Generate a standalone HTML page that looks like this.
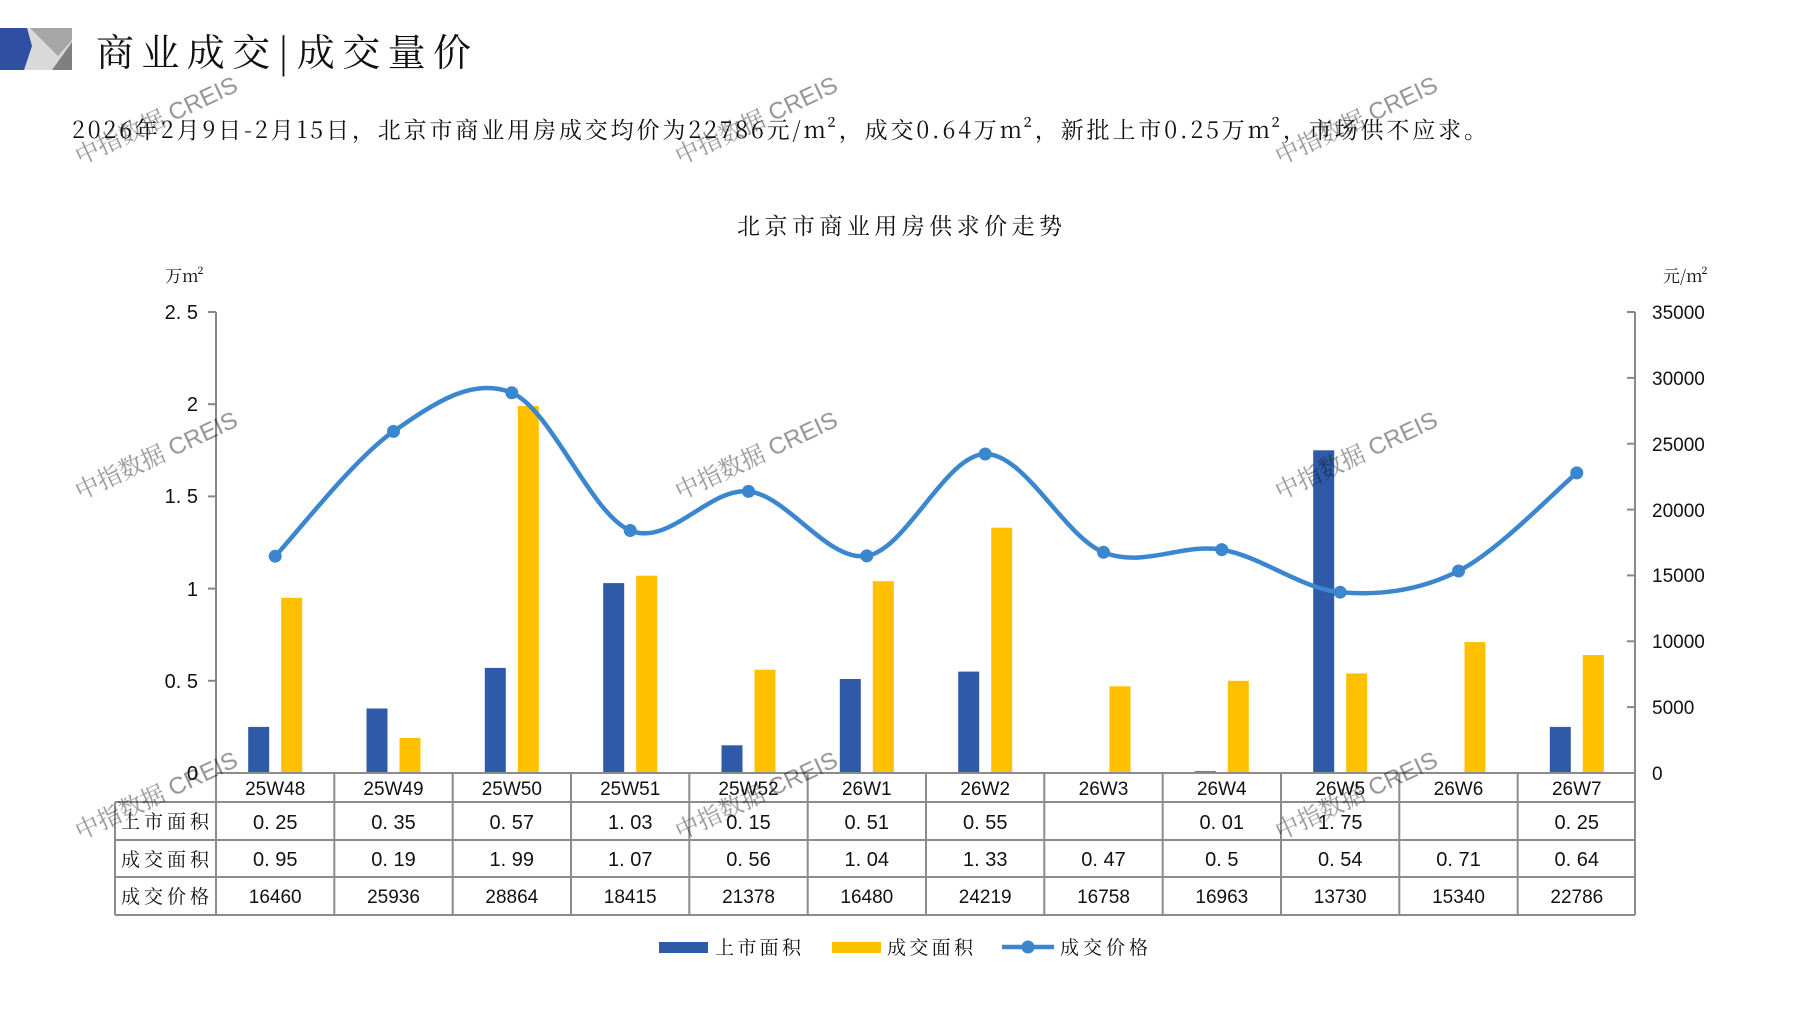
<!DOCTYPE html>
<html><head><meta charset="utf-8"><style>
html,body{margin:0;padding:0;background:#fff;}
svg{display:block;}
text{font-family:"Liberation Sans","Noto Serif CJK SC",serif;fill:#111;}
.cn{font-family:"Noto Serif CJK SC","Noto Sans CJK SC",serif;}
.wm{font-family:"Liberation Sans","Noto Sans CJK SC",sans-serif;fill:#c8c8c8;font-size:24px;opacity:.45;}
</style></head><body>
<svg width="1797" height="1010" viewBox="0 0 1797 1010" xmlns="http://www.w3.org/2000/svg">
<rect width="1797" height="1010" fill="#fff"/>
<!-- logo -->
<rect x="0" y="28" width="72" height="42" fill="#d9d9d9"/>
<polygon points="30,28 72,28 72,40 58,56" fill="#a6a6a6"/>
<polygon points="72,42 72,70 52,70" fill="#7f7f7f"/>
<polygon points="0,28 27,28 32,46 24,70 0,70" fill="#2f4fa3"/>
<!-- title -->
<text x="96" y="66" class="cn" font-size="38" textLength="375" lengthAdjust="spacing">商业成交|成交量价</text>
<text x="72" y="138" class="cn" font-size="23" textLength="1415" lengthAdjust="spacing">2026年2月9日-2月15日，北京市商业用房成交均价为22786元/m²，成交0.64万m²，新批上市0.25万m²，市场供不应求。</text>
<text x="737" y="234" class="cn" font-size="23" textLength="325" lengthAdjust="spacing">北京市商业用房供求价走势</text>
<!-- units -->
<text x="165" y="282" class="cn" font-size="17">万m²</text>
<text x="1663" y="282" class="cn" font-size="17">元/m²</text>
<!-- axes -->
<g stroke="#888" stroke-width="2" fill="none">
<line x1="216" y1="312" x2="216" y2="773"/>
<line x1="1635" y1="312" x2="1635" y2="773"/>
<line x1="208" y1="312" x2="216" y2="312"/><line x1="208" y1="404.2" x2="216" y2="404.2"/><line x1="208" y1="496.4" x2="216" y2="496.4"/><line x1="208" y1="588.6" x2="216" y2="588.6"/><line x1="208" y1="680.8" x2="216" y2="680.8"/>
<line x1="1627" y1="312" x2="1635" y2="312"/><line x1="1627" y1="377.9" x2="1635" y2="377.9"/><line x1="1627" y1="443.7" x2="1635" y2="443.7"/><line x1="1627" y1="509.6" x2="1635" y2="509.6"/><line x1="1627" y1="575.4" x2="1635" y2="575.4"/><line x1="1627" y1="641.3" x2="1635" y2="641.3"/><line x1="1627" y1="707.1" x2="1635" y2="707.1"/>
</g>
<g font-size="20" text-anchor="end">
<text x="198" y="319">2. 5</text><text x="198" y="411">2</text><text x="198" y="503">1. 5</text><text x="198" y="596">1</text><text x="198" y="688">0. 5</text><text x="198" y="780">0</text>
</g>
<g font-size="19">
<text x="1652" y="319">35000</text><text x="1652" y="385">30000</text><text x="1652" y="451">25000</text><text x="1652" y="517">20000</text><text x="1652" y="582">15000</text><text x="1652" y="648">10000</text><text x="1652" y="714">5000</text><text x="1652" y="780">0</text>
</g>
<!-- bars -->
<g fill="#2e5aa7">
<rect x="248.2" y="726.9" width="21" height="46.1"/>
<rect x="366.5" y="708.5" width="21" height="64.5"/>
<rect x="484.8" y="667.9" width="21" height="105.1"/>
<rect x="603.2" y="583.1" width="21" height="189.9"/>
<rect x="721.5" y="745.3" width="21" height="27.7"/>
<rect x="839.8" y="679" width="21" height="94"/>
<rect x="958.2" y="671.6" width="21" height="101.4"/>
<rect x="1194.8" y="771.2" width="21" height="1.8"/>
<rect x="1313.2" y="450.3" width="21" height="322.7"/>
<rect x="1549.8" y="726.9" width="21" height="46.1"/>
</g>
<g fill="#ffc000">
<rect x="281.2" y="597.8" width="21" height="175.2"/>
<rect x="399.5" y="738" width="21" height="35"/>
<rect x="517.8" y="406" width="21" height="367"/>
<rect x="636.2" y="575.7" width="21" height="197.3"/>
<rect x="754.5" y="669.7" width="21" height="103.3"/>
<rect x="872.8" y="581.2" width="21" height="191.8"/>
<rect x="991.2" y="527.7" width="21" height="245.3"/>
<rect x="1109.5" y="686.3" width="21" height="86.7"/>
<rect x="1227.8" y="680.8" width="21" height="92.2"/>
<rect x="1346.2" y="673.4" width="21" height="99.6"/>
<rect x="1464.5" y="642.1" width="21" height="130.9"/>
<rect x="1582.8" y="655" width="21" height="118"/>
</g>
<!-- line -->
<path d="M275.2,556.2 C294.9,535.4 354.1,458.6 393.5,431.4 C432.9,404.2 472.4,376.3 511.8,392.8 C551.2,409.3 590.8,514.1 630.2,530.5 C669.6,546.9 709.1,487.2 748.5,491.4 C787.9,495.6 827.4,562.1 866.8,555.9 C906.2,549.7 945.8,454.6 985.2,454 C1024.6,453.4 1064.1,536.4 1103.5,552.3 C1142.9,568.2 1182.4,542.95 1221.8,549.6 C1261.2,556.25 1300.8,588.6 1340.2,592.2 C1379.6,595.8 1418.9,590.9 1458.5,571 C1498.1,551.1 1557.1,489.25 1576.8,472.9" fill="none" stroke="#3a86cf" stroke-width="4.5"/>
<g fill="#3a86cf">
<circle cx="275.2" cy="556.2" r="6.5"/><circle cx="393.5" cy="431.4" r="6.5"/><circle cx="511.8" cy="392.8" r="6.5"/><circle cx="630.2" cy="530.5" r="6.5"/><circle cx="748.5" cy="491.4" r="6.5"/><circle cx="866.8" cy="555.9" r="6.5"/><circle cx="985.2" cy="454" r="6.5"/><circle cx="1103.5" cy="552.3" r="6.5"/><circle cx="1221.8" cy="549.6" r="6.5"/><circle cx="1340.2" cy="592.2" r="6.5"/><circle cx="1458.5" cy="571" r="6.5"/><circle cx="1576.8" cy="472.9" r="6.5"/>
</g>
<!-- table -->
<g stroke="#8c8c8c" stroke-width="2" fill="none">
<line x1="216" y1="773" x2="1635" y2="773"/>
<line x1="115" y1="802" x2="1635" y2="802"/>
<line x1="115" y1="840" x2="1635" y2="840"/>
<line x1="115" y1="877" x2="1635" y2="877"/>
<line x1="115" y1="915" x2="1635" y2="915"/>
<line x1="115" y1="802" x2="115" y2="915"/>
<line x1="216" y1="773" x2="216" y2="915"/>
<line x1="334.3" y1="773" x2="334.3" y2="915"/><line x1="452.7" y1="773" x2="452.7" y2="915"/><line x1="571" y1="773" x2="571" y2="915"/><line x1="689.3" y1="773" x2="689.3" y2="915"/><line x1="807.7" y1="773" x2="807.7" y2="915"/><line x1="926" y1="773" x2="926" y2="915"/><line x1="1044.3" y1="773" x2="1044.3" y2="915"/><line x1="1162.7" y1="773" x2="1162.7" y2="915"/><line x1="1281" y1="773" x2="1281" y2="915"/><line x1="1399.3" y1="773" x2="1399.3" y2="915"/><line x1="1517.7" y1="773" x2="1517.7" y2="915"/>
<line x1="1635" y1="773" x2="1635" y2="915"/>
</g>
<g font-size="19" class="cn">
<text x="121" y="828" textLength="88" lengthAdjust="spacing">上市面积</text>
<text x="121" y="866" textLength="88" lengthAdjust="spacing">成交面积</text>
<text x="121" y="903" textLength="88" lengthAdjust="spacing">成交价格</text>
</g>
<g font-size="19" text-anchor="middle">
<text x="275.2" y="795">25W48</text><text x="393.5" y="795">25W49</text><text x="511.8" y="795">25W50</text><text x="630.2" y="795">25W51</text><text x="748.5" y="795">25W52</text><text x="866.8" y="795">26W1</text><text x="985.2" y="795">26W2</text><text x="1103.5" y="795">26W3</text><text x="1221.8" y="795">26W4</text><text x="1340.2" y="795">26W5</text><text x="1458.5" y="795">26W6</text><text x="1576.8" y="795">26W7</text>
</g>
<g font-size="20" text-anchor="middle">
<text x="275.2" y="829">0. 25</text><text x="393.5" y="829">0. 35</text><text x="511.8" y="829">0. 57</text><text x="630.2" y="829">1. 03</text><text x="748.5" y="829">0. 15</text><text x="866.8" y="829">0. 51</text><text x="985.2" y="829">0. 55</text><text x="1221.8" y="829">0. 01</text><text x="1340.2" y="829">1. 75</text><text x="1576.8" y="829">0. 25</text>
<text x="275.2" y="866">0. 95</text><text x="393.5" y="866">0. 19</text><text x="511.8" y="866">1. 99</text><text x="630.2" y="866">1. 07</text><text x="748.5" y="866">0. 56</text><text x="866.8" y="866">1. 04</text><text x="985.2" y="866">1. 33</text><text x="1103.5" y="866">0. 47</text><text x="1221.8" y="866">0. 5</text><text x="1340.2" y="866">0. 54</text><text x="1458.5" y="866">0. 71</text><text x="1576.8" y="866">0. 64</text>
</g>
<g font-size="19" text-anchor="middle">
<text x="275.2" y="903">16460</text><text x="393.5" y="903">25936</text><text x="511.8" y="903">28864</text><text x="630.2" y="903">18415</text><text x="748.5" y="903">21378</text><text x="866.8" y="903">16480</text><text x="985.2" y="903">24219</text><text x="1103.5" y="903">16758</text><text x="1221.8" y="903">16963</text><text x="1340.2" y="903">13730</text><text x="1458.5" y="903">15340</text><text x="1576.8" y="903">22786</text>
</g>
<!-- legend -->
<rect x="659" y="942" width="49" height="11" fill="#2e5aa7"/>
<text x="715" y="954" class="cn" font-size="19" textLength="86" lengthAdjust="spacing">上市面积</text>
<rect x="832" y="942" width="49" height="11" fill="#ffc000"/>
<text x="887" y="954" class="cn" font-size="19" textLength="86" lengthAdjust="spacing">成交面积</text>
<line x1="1002" y1="947" x2="1054" y2="947" stroke="#3a86cf" stroke-width="4.5"/>
<circle cx="1028" cy="947" r="6.5" fill="#3a86cf"/>
<text x="1060" y="954" class="cn" font-size="19" textLength="88" lengthAdjust="spacing">成交价格</text>
<!-- watermarks -->
<g class="wm">
<text transform="translate(80,165) rotate(-25)">中指数据 CREIS</text>
<text transform="translate(680,165) rotate(-25)">中指数据 CREIS</text>
<text transform="translate(1280,165) rotate(-25)">中指数据 CREIS</text>
<text transform="translate(80,500) rotate(-25)">中指数据 CREIS</text>
<text transform="translate(680,500) rotate(-25)">中指数据 CREIS</text>
<text transform="translate(1280,500) rotate(-25)">中指数据 CREIS</text>
<text transform="translate(80,840) rotate(-25)">中指数据 CREIS</text>
<text transform="translate(680,840) rotate(-25)">中指数据 CREIS</text>
<text transform="translate(1280,840) rotate(-25)">中指数据 CREIS</text>
</g>
</svg>
</body></html>
